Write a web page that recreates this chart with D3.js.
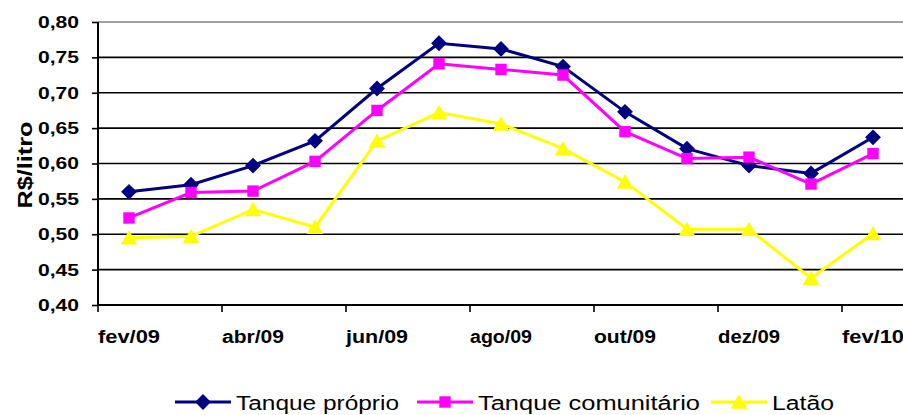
<!DOCTYPE html>
<head>
  <meta charset="utf-8">
  <script src="https://d3js.org/d3.v7.min.js"></script>
  <style>
    body { margin:0; background:#fff; }
    text { font-family: Arial, "Liberation Sans", sans-serif; }
  </style>
</head>
<body>
<svg width="903" height="415"></svg>
<script>

const months = ["fev/09","mar/09","abr/09","mai/09","jun/09","jul/09","ago/09",
                "set/09","out/09","nov/09","dez/09","jan/10","fev/10"]

const proprio     = [0.560, 0.570, 0.597, 0.632, 0.706, 0.770, 0.762, 0.737, 0.673, 0.621, 0.597, 0.586, 0.637]
const comunitario = [0.523, 0.559, 0.561, 0.603, 0.675, 0.741, 0.733, 0.725, 0.645, 0.607, 0.609, 0.571, 0.614]
const latao       = [0.495, 0.497, 0.535, 0.510, 0.632, 0.672, 0.656, 0.621, 0.574, 0.507, 0.507, 0.438, 0.501]

const yTicks = [0.40, 0.45, 0.50, 0.55, 0.60, 0.65, 0.70, 0.75, 0.80]

const series = [
  {name: "Tanque próprio",     values: proprio,     color: "#000080", symbol: d3.symbolDiamond2,  size: 160},
  {name: "Tanque comunitário", values: comunitario, color: "#ff00ff", symbol: d3.symbolSquare2,   size: 165},
  {name: "Latão",              values: latao,       color: "#ffff00", symbol: d3.symbolTriangle2, size: 200}
]

const svg = d3.select("svg")
const pLeft = 98, pRight = 904, pTop = 22, pBottom = 305

const x = d3.scaleBand().domain(months).range([pLeft, pRight])
const y = d3.scaleLinear().domain([0.40, 0.80]).range([pBottom, pTop])
const cx = m => x(m) + x.bandwidth() / 2

// grid lines
svg.append("g").selectAll("line")
  .data(yTicks.filter(d => d > 0.40))
  .enter().append("line")
    .attr("x1", pLeft).attr("x2", 903)
    .attr("y1", d => y(d)).attr("y2", d => y(d))
    .attr("stroke", d => d === 0.80 ? "#808080" : "#000")
    .attr("stroke-width", 1.6)

// y axis
const yAxis = svg.append("g")
  .attr("transform", `translate(${pLeft},0)`)
  .call(d3.axisLeft(y).tickValues(yTicks).tickSize(6).tickPadding(13)
        .tickFormat(d => d3.format(".2f")(d).replace(".", ",")))
yAxis.select(".domain").remove()
yAxis.selectAll(".tick line").attr("stroke", "#000").attr("stroke-width", 1.6)
yAxis.selectAll("text")
  .attr("font-size", 17).attr("font-weight", "bold").attr("fill", "#000")
  .attr("textLength", 41).attr("lengthAdjust", "spacingAndGlyphs")
yAxis.append("line").attr("x1", 0).attr("x2", 0).attr("y1", pTop).attr("y2", pBottom)
  .attr("stroke", "#000").attr("stroke-width", 2)

// x axis: ticks every two months, on category boundaries
const xg = svg.append("g")
xg.append("line").attr("x1", pLeft).attr("x2", 903).attr("y1", pBottom).attr("y2", pBottom)
  .attr("stroke", "#000").attr("stroke-width", 2)
xg.selectAll(".tk")
  .data(months.filter((m, i) => i % 2 === 0))
  .enter().append("line")
    .attr("x1", d => x(d)).attr("x2", d => x(d))
    .attr("y1", pBottom).attr("y2", pBottom + 7)
    .attr("stroke", "#000").attr("stroke-width", 1.6)
xg.selectAll(".lbl")
  .data(months.filter((m, i) => i % 2 === 0))
  .enter().append("text")
    .attr("x", d => cx(d) - 31)
    .attr("y", 343)
    .attr("font-size", 18).attr("font-weight", "bold")
    .attr("textLength", 62).attr("lengthAdjust", "spacingAndGlyphs")
    .text(d => d)

// y title
svg.append("text")
  .attr("transform", "translate(32,165) rotate(-90)")
  .attr("text-anchor", "middle")
  .attr("font-size", 21).attr("font-weight", "bold")
  .attr("textLength", 87).attr("lengthAdjust", "spacingAndGlyphs")
  .text("R$/litro")

// lines and markers
const line = d3.line().x((d, i) => cx(months[i])).y(d => y(d))
series.forEach(s => {
  svg.append("path").datum(s.values)
    .attr("d", line).attr("fill", "none")
    .attr("stroke", s.color).attr("stroke-width", 3)
  svg.append("g").selectAll("path")
    .data(s.values)
    .enter().append("path")
      .attr("transform", (d, i) => `translate(${cx(months[i])},${y(d) + (s.symbol === d3.symbolTriangle2 ? 2 : 0)})`)
      .attr("d", d3.symbol().type(s.symbol).size(s.size))
      .attr("fill", s.color)
})

// legend
const legendX = [175, 417, 711]
const legendW = [163, 222, 62]
const leg = svg.append("g").selectAll("g")
  .data(series)
  .enter().append("g")
    .attr("transform", (d, i) => `translate(${legendX[i]},402)`)
leg.append("line").attr("x1", 0).attr("x2", 56)
  .attr("stroke", d => d.color).attr("stroke-width", 3)
leg.append("path")
  .attr("transform", d => `translate(28,${d.symbol === d3.symbolTriangle2 ? 2 : 0})`)
  .attr("d", d => d3.symbol().type(d.symbol).size(d.size)())
  .attr("fill", d => d.color)
leg.append("text")
  .attr("x", 61).attr("y", 8)
  .attr("font-size", 20)
  .attr("textLength", (d, i) => legendW[i]).attr("lengthAdjust", "spacingAndGlyphs")
  .text(d => d.name)

</script>
</body>
